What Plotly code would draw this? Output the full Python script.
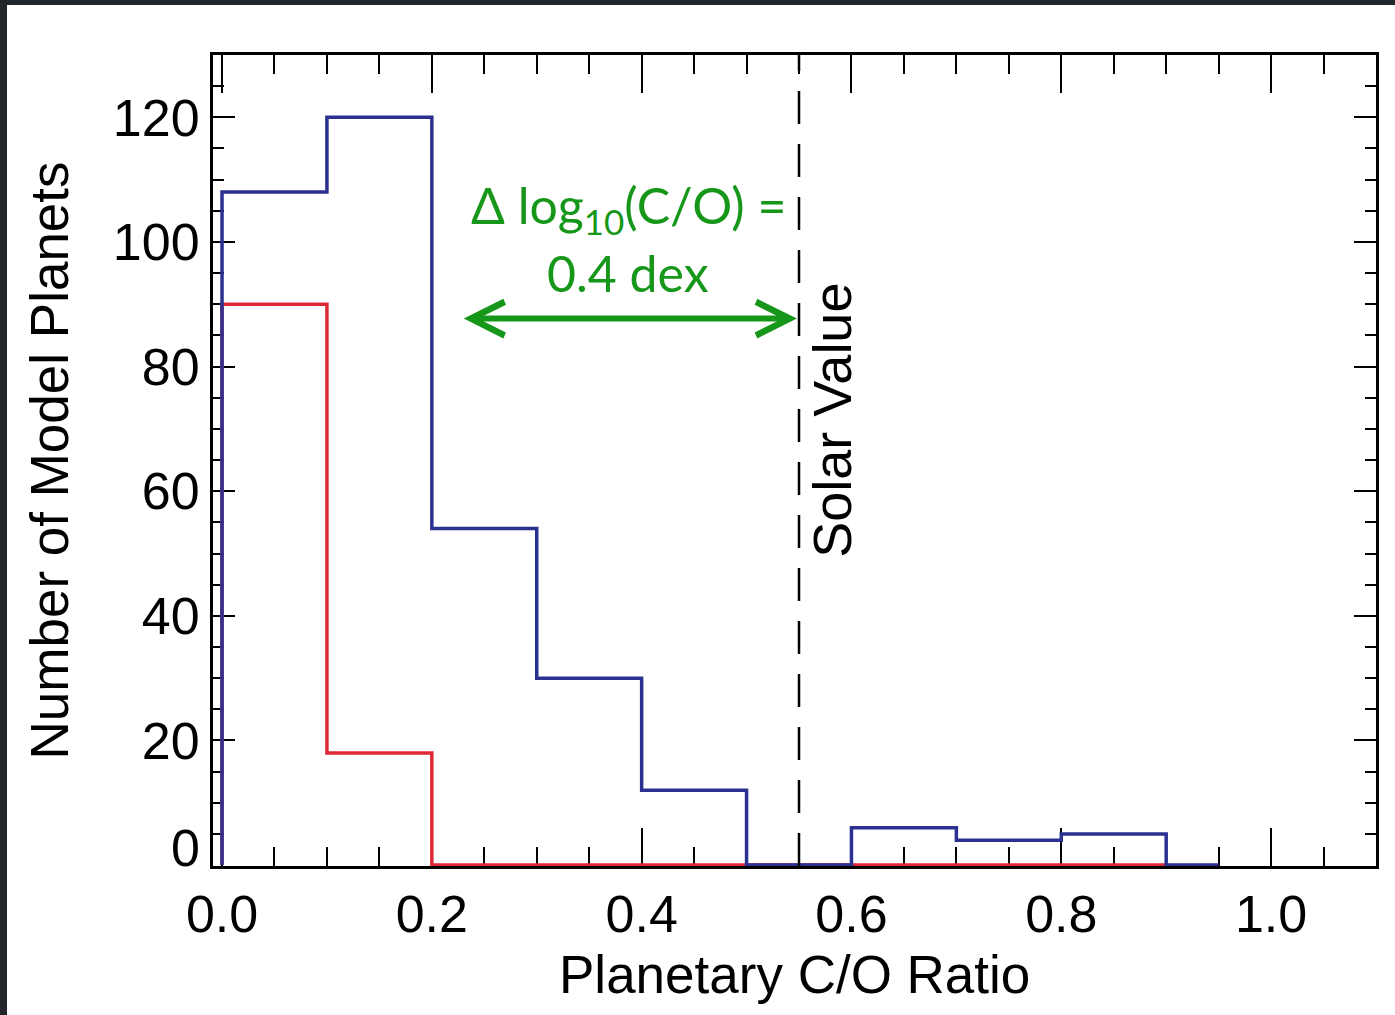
import plotly.graph_objects as go

# ---- data ----
bin_starts = [0.0, 0.1, 0.2, 0.3, 0.4, 0.5, 0.6, 0.7, 0.8]
blue_counts = [108, 120, 54, 30, 12, 0, 6, 4, 5]
red_counts = [90, 18, 0, 0, 0, 0, 0, 0, 0]
blue_last_edge = 0.9
blue_tail_end = 0.95
red_last_edge = 0.9

solar_value = 0.55
arrow_x = [0.229, 0.548]
arrow_y = 87.7

x_tick_vals = [0.0, 0.2, 0.4, 0.6, 0.8, 1.0]
x_tick_text = ["0.0", "0.2", "0.4", "0.6", "0.8", "1.0"]
y_tick_vals = [0, 20, 40, 60, 80, 100, 120]
y_tick_text = ["", "20", "40", "60", "80", "100", "120"]
y_zero_label = "0"

BLUE = "#2b3190"
RED = "#dd2a36"
GREEN = "#16971a"
FONT = "Liberation Sans, Arial, Helvetica, sans-serif"


def step_xy(starts, counts, last_edge, tail_end=None):
    xs = [starts[0]] + list(starts) + [last_edge]
    ys = [0] + list(counts) + [0]
    if tail_end is not None:
        xs.append(tail_end)
        ys.append(0)
    return xs, ys


rx, ry = step_xy(bin_starts, red_counts, red_last_edge)
bx, by = step_xy(bin_starts, blue_counts, blue_last_edge, blue_tail_end)

fig = go.Figure()
fig.add_trace(go.Scatter(x=rx, y=ry, mode="lines", line=dict(color=RED, width=3.5, shape="hv"),
                         showlegend=False, hoverinfo="skip"))
fig.add_trace(go.Scatter(x=bx, y=by, mode="lines", line=dict(color=BLUE, width=3.5, shape="hv"),
                         showlegend=False, hoverinfo="skip"))

# solar value dashed line
fig.add_shape(type="line", xref="x", yref="paper", x0=solar_value, x1=solar_value, y0=0, y1=1,
              line=dict(color="black", width=2.5, dash="33px,20px"))

# green double arrow
fig.add_annotation(x=arrow_x[1], y=arrow_y, ax=arrow_x[0], ay=arrow_y, xref="x", yref="y",
                   axref="x", ayref="y", text="", showarrow=True, arrowhead=5, startarrowhead=5,
                   arrowside="end+start", arrowcolor=GREEN, arrowwidth=6, arrowsize=1.1,
                   startarrowsize=1.1)

fig.add_annotation(x=0.387, y=105.3, xref="x", yref="y", showarrow=False, xanchor="center", yanchor="middle",
                   text="Δ log<sub>10</sub>(C/O) =", font=dict(family="Lato, sans-serif", size=50, color=GREEN))
fig.add_annotation(x=0.387, y=95.0, xref="x", yref="y", showarrow=False, xanchor="center", yanchor="middle",
                   text="0.4 dex", font=dict(family="Lato, sans-serif", size=50, color=GREEN))

fig.add_annotation(x=0.582, y=71.4, xref="x", yref="y", showarrow=False, textangle=-90,
                   xanchor="center", yanchor="middle",
                   text="Solar Value", font=dict(family=FONT, size=54, color="black"))

# the "0" tick label sits slightly raised in the reference
fig.add_annotation(x=0, y=y_tick_vals[0], xref="paper", yref="y", showarrow=False,
                   xanchor="right", yanchor="middle", xshift=-11, yshift=17,
                   text=y_zero_label, font=dict(family=FONT, size=52, color="black"))

# axis titles
fig.add_annotation(x=0.5, y=-0.1344, xref="paper", yref="paper", showarrow=False,
                   xanchor="center", yanchor="middle",
                   text="Planetary C/O Ratio", font=dict(family=FONT, size=53, color="black"))
fig.add_annotation(x=-0.1402, y=0.5, xref="paper", yref="paper", showarrow=False, textangle=-90,
                   xanchor="center", yanchor="middle",
                   text="Number of Model Planets", font=dict(family=FONT, size=53, color="black"))

# dark border strips (background of the source image)
fig.add_shape(type="rect", xref="paper", yref="paper", x0=-0.1832, x1=1.02, y0=861 / 811, y1=1.07,
              fillcolor="#22272b", line=dict(width=0), layer="above")
fig.add_shape(type="rect", xref="paper", yref="paper", x0=-0.1832, x1=-206 / 1163, y0=-0.19, y1=1.07,
              fillcolor="#22272b", line=dict(width=0), layer="above")

fig.update_xaxes(range=[-0.0086, 1.1], tickmode="array", tickvals=x_tick_vals, ticktext=x_tick_text,
                 ticks="inside", ticklen=38, tickwidth=2, tickcolor="black",
                 minor=dict(ticks="inside", ticklen=19, dtick=0.05, tick0=0, tickwidth=2, tickcolor="black"),
                 showline=True, linewidth=3, linecolor="black", mirror="allticks",
                 showgrid=False, zeroline=False, layer="below traces",
                 tickfont=dict(family=FONT, size=52, color="black"), ticklabelstandoff=1)
fig.update_yaxes(range=[-0.15, 130], tickmode="array", tickvals=y_tick_vals, ticktext=y_tick_text,
                 ticks="inside", ticklen=22, tickwidth=2, tickcolor="black",
                 minor=dict(ticks="inside", ticklen=11, dtick=5, tick0=0, tickwidth=2, tickcolor="black"),
                 showline=True, linewidth=3, linecolor="black", mirror="allticks",
                 showgrid=False, zeroline=False, layer="below traces",
                 tickfont=dict(family=FONT, size=52, color="black"), ticklabelstandoff=0)

fig.update_layout(width=1395, height=1015, margin=dict(l=213, r=19, t=55, b=149),
                  paper_bgcolor="white", plot_bgcolor="white")

fig.write_html("out.html", config={"displayModeBar": False},
               post_script="document.body.style.margin='0px';")
